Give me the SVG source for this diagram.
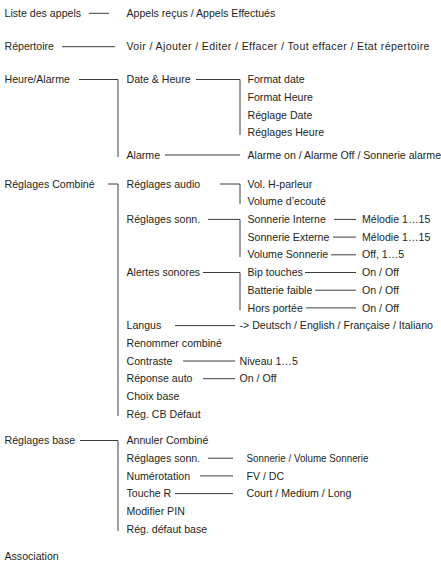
<svg xmlns="http://www.w3.org/2000/svg" width="441" height="563" viewBox="0 0 441 563">
<style>
text{font-family:"Liberation Sans",Arial,sans-serif;font-size:10.6px;fill:#231f20}
.c path,.c line{stroke:#3c3c3c;stroke-width:1;fill:none}
</style>
<rect width="441" height="563" fill="#fff"/>
<g class="c" id="connectors">
<line x1="89" y1="13.3" x2="109" y2="13.3"/>
<line x1="62" y1="46.7" x2="115" y2="46.7"/>
<path d="M79,79.5H118V157"/>
<path d="M196,79.5H240V135"/>
<line x1="165" y1="155" x2="240" y2="155"/>
<path d="M108,184H118V416"/>
<path d="M220,184H240V204"/>
<path d="M208,219.4H240V257"/>
<line x1="334" y1="219.4" x2="356" y2="219.4"/>
<line x1="333" y1="237.1" x2="356" y2="237.1"/>
<line x1="331" y1="254.8" x2="356" y2="254.8"/>
<path d="M203,272.5H240V310"/>
<line x1="305" y1="272.5" x2="356" y2="272.5"/>
<line x1="315" y1="290.2" x2="356" y2="290.2"/>
<line x1="306" y1="307.9" x2="356" y2="307.9"/>
<line x1="175" y1="325.6" x2="235" y2="325.6"/>
<line x1="183" y1="361" x2="235" y2="361"/>
<line x1="203" y1="378.7" x2="235" y2="378.7"/>
<path d="M80,440.5H118V531"/>
<line x1="208" y1="458.2" x2="233" y2="458.2"/>
<line x1="200" y1="475.9" x2="233" y2="475.9"/>
<line x1="175" y1="493.6" x2="233" y2="493.6"/>
</g>
<g id="liste"><text x="4.5" y="17">Liste des appels</text><text x="126.5" y="17">Appels reçus / Appels Effectués</text></g>
<g id="repertoire"><text x="4.5" y="50.3">Répertoire</text><text x="126.5" y="50.3" textLength="303" lengthAdjust="spacing">Voir / Ajouter / Editer / Effacer / Tout effacer / Etat répertoire</text></g>
<g id="heure"><text x="4.5" y="83.1">Heure/Alarme</text></g>
<g id="date-heure"><text x="126.5" y="83.1">Date &amp; Heure</text>
<text x="247.5" y="83.1">Format date</text>
<text x="247.5" y="100.8">Format Heure</text>
<text x="247.5" y="118.5">Réglage Date</text>
<text x="247.5" y="136.2">Réglages Heure</text></g>
<g id="alarme"><text x="126.5" y="158.6">Alarme</text><text x="247.5" y="158.6">Alarme on / Alarme Off / Sonnerie alarme</text></g>
<g id="reglages-combine"><text x="4.5" y="187.6">Réglages Combiné</text></g>
<g id="audio"><text x="126.5" y="187.6">Réglages  audio</text>
<text x="247.5" y="187.6">Vol. H-parleur</text>
<text x="247.5" y="205.3">Volume d’ecouté</text></g>
<g id="sonn"><text x="126.5" y="223">Réglages sonn.</text>
<text x="247.5" y="223">Sonnerie Interne</text><text x="362" y="223">Mélodie 1…15</text>
<text x="247.5" y="240.7">Sonnerie Externe</text><text x="362" y="240.7">Mélodie 1…15</text>
<text x="247.5" y="258.4">Volume Sonnerie</text><text x="362" y="258.4">Off, 1…5</text></g>
<g id="alertes"><text x="126.5" y="276.1">Alertes sonores</text>
<text x="247.5" y="276.1">Bip touches</text><text x="362" y="276.1">On / Off</text>
<text x="247.5" y="293.8">Batterie faible</text><text x="362" y="293.8">On / Off</text>
<text x="247.5" y="311.5">Hors portée</text><text x="362" y="311.5">On / Off</text></g>
<g id="langus"><text x="126.5" y="329.2">Langus</text><text x="239.5" y="329.2">-&gt; Deutsch / English / Française / Italiano</text></g>
<g id="renommer"><text x="126.5" y="346.9">Renommer combiné</text></g>
<g id="contraste"><text x="126.5" y="364.6">Contraste</text><text x="239.5" y="364.6">Niveau 1…5</text></g>
<g id="reponse"><text x="126.5" y="382.3">Réponse auto</text><text x="239.5" y="382.3">On / Off</text></g>
<g id="choix"><text x="126.5" y="400">Choix base</text></g>
<g id="reg-cb"><text x="126.5" y="417.7">Rég. CB Défaut</text></g>
<g id="reglages-base"><text x="4.5" y="444.1">Réglages base</text></g>
<g id="annuler"><text x="126.5" y="444.1">Annuler Combiné</text></g>
<g id="base-sonn"><text x="126.5" y="461.8">Réglages sonn.</text><text x="246.5" y="461.8" textLength="122" lengthAdjust="spacingAndGlyphs">Sonnerie / Volume Sonnerie</text></g>
<g id="numerotation"><text x="126.5" y="479.5">Numérotation</text><text x="246.5" y="479.5">FV / DC</text></g>
<g id="touche"><text x="126.5" y="497.2">Touche R</text><text x="246.5" y="497.2">Court / Medium / Long</text></g>
<g id="pin"><text x="126.5" y="514.9">Modifier PIN</text></g>
<g id="defaut-base"><text x="126.5" y="532.6">Rég. défaut base</text></g>
<g id="association"><text x="4.5" y="559.5">Association</text></g>
</svg>
